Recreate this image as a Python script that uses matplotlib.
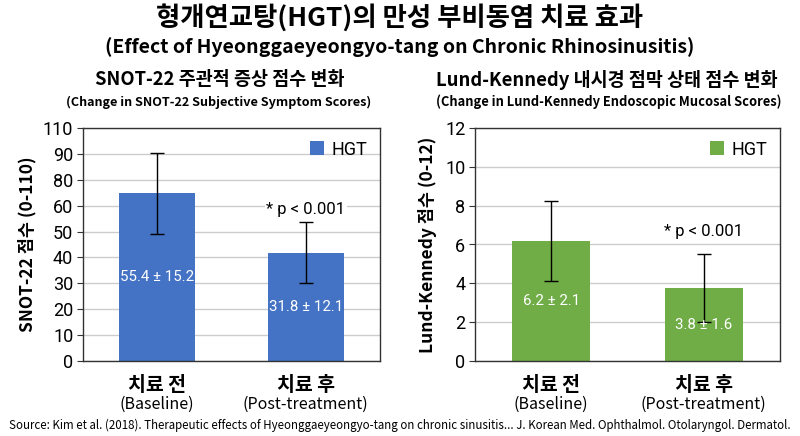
import matplotlib
matplotlib.use('Agg')
import matplotlib.pyplot as plt
from matplotlib.patches import Patch

# Values (bar heights in axis units).
groups = ['치료 전', '치료 후']
groups_en = ['(Baseline)', '(Post-treatment)']

snot_height = [64.8, 41.8]
snot_err = [15.6, 11.7]
snot_labels = ['55.4 ± 15.2', '31.8 ± 12.1']
snot_ticks = [0, 10, 20, 30, 40, 50, 60, 70, 80, 90]
snot_ticklabels = ['0', '10', '20', '30', '40', '50', '60', '80', '90', '110']

lk_height = [6.18, 3.75]
lk_err = [2.07, 1.74]
lk_labels = ['6.2 ± 2.1', '3.8 ± 1.6']
lk_ticks = [0, 2, 4, 6, 8, 10, 12]
lk_ticklabels = ['0', '2', '4', '6', '8', '10', '12']

p_text = '* p < 0.001'
KR = ['Noto Sans CJK KR', 'DejaVu Sans']
NUM = ['Roboto', 'DejaVu Sans']

fig = plt.figure(figsize=(8, 4.36), dpi=100)
fig.patch.set_facecolor('white')


def draw_panel(ax, heights, errs, labels, ticks, ticklabels, ylim, p_y, color, ylabel, ylabel_x):
    x = [0, 1]
    ax.bar(x, heights, width=0.51, color=color, zorder=2)
    ax.errorbar(x, heights, yerr=errs, fmt='none', ecolor='black', elinewidth=1,
                capsize=5, capthick=1, zorder=3)
    for xi, h, lab in zip(x, heights, labels):
        ax.text(xi, h / 2, lab, ha='center', va='center', color='white',
                fontsize=10.8, family=NUM, zorder=4)
    ax.text(1, p_y, p_text, ha='center', va='center', fontsize=12, family=NUM,
            bbox=dict(facecolor='white', edgecolor='none', pad=1), zorder=3)
    ax.set_xlim(-0.5, 1.5)
    ax.set_ylim(ylim)
    ax.set_yticks(ticks)
    ax.set_yticklabels(ticklabels, family=NUM, fontsize=13)
    ax.set_xticks([])
    ax.yaxis.grid(True, color='#cccccc', linewidth=1, zorder=0)
    ax.set_axisbelow(True)
    for s in ax.spines.values():
        s.set_color('#333333')
        s.set_linewidth(1)
    ax.tick_params(axis='y', length=4, color='#333333', pad=3)
    ax.set_ylabel(ylabel, family=KR, fontsize=12.5, fontweight='bold')
    ax.yaxis.set_label_coords(ylabel_x, 0.5)
    tr = ax.get_xaxis_transform()
    for xi, g, ge in zip(x, groups, groups_en):
        ax.text(xi, -0.105, g, transform=tr, ha='center', va='center',
                fontsize=14, fontweight='bold', family=KR)
        ax.text(xi, -0.185, ge, transform=tr, ha='center', va='center',
                fontsize=11.5, family=KR)
    ax.legend(handles=[Patch(facecolor=color, label='HGT')], loc='upper right',
              frameon=False, prop={'family': NUM, 'size': 13},
              handlelength=0.8, handleheight=0.8, handletextpad=0.4,
              borderaxespad=0.3)


ax1 = fig.add_axes([83 / 800, 75 / 436, 297 / 800, 233 / 436])
draw_panel(ax1, snot_height, snot_err, snot_labels, snot_ticks, snot_ticklabels,
           (0, 90), 58.6, '#4472c4', 'SNOT-22 점수 (0-110)', -0.155)

ax2 = fig.add_axes([475 / 800, 75 / 436, 305 / 800, 233 / 436])
draw_panel(ax2, lk_height, lk_err, lk_labels, lk_ticks, lk_ticklabels,
           (0, 12), 6.66, '#70ad47', 'Lund-Kennedy 점수 (0-12)', -0.125)

# Titles
fig.text(0.5, 0.959, '형개연교탕(HGT)의 만성 부비동염 치료 효과', ha='center', va='center',
         fontsize=19, fontweight='bold', family=KR)
fig.text(0.5, 0.892, '(Effect of Hyeonggaeyeongyo-tang on Chronic Rhinosinusitis)',
         ha='center', va='center', fontsize=14, fontweight='bold', family=KR)
fig.text(220 / 800, 0.817, 'SNOT-22 주관적 증상 점수 변화', ha='center', va='center',
         fontsize=13.3, fontweight='bold', family=KR)
fig.text(219 / 800, 0.766, '(Change in SNOT-22 Subjective Symptom Scores)', ha='center',
         va='center', fontsize=9.1, fontweight='bold', family=KR)
fig.text(607 / 800, 0.817, 'Lund-Kennedy 내시경 점막 상태 점수 변화', ha='center', va='center',
         fontsize=13.3, fontweight='bold', family=KR)
fig.text(609 / 800, 0.766, '(Change in Lund-Kennedy Endoscopic Mucosal Scores)', ha='center',
         va='center', fontsize=9.3, fontweight='bold', family=KR)

fig.text(0.5, 0.025, 'Source: Kim et al. (2018). Therapeutic effects of Hyeonggaeyeongyo-tang on '
         'chronic sinusitis... J. Korean Med. Ophthalmol. Otolaryngol. Dermatol.',
         ha='center', va='center', fontsize=8.3, family=KR)

fig.savefig('out.png', dpi=100, facecolor='white')
